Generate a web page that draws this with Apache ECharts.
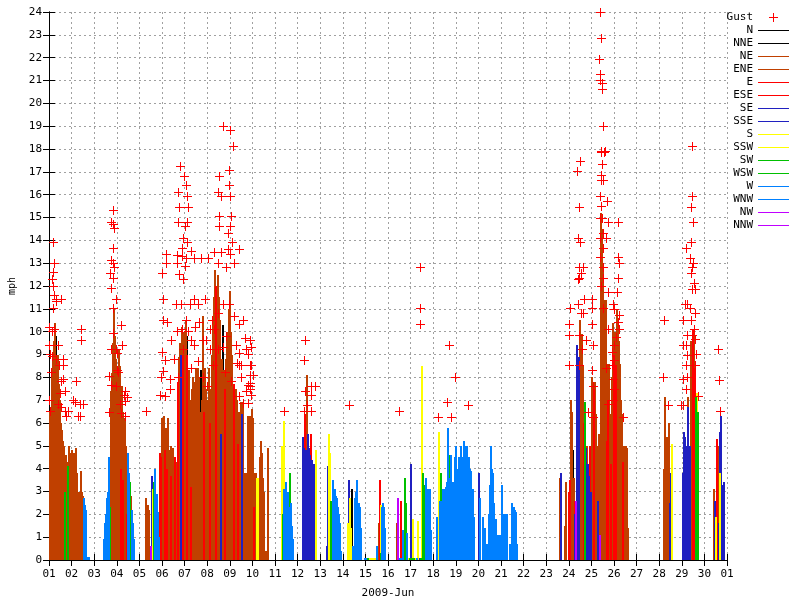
<!DOCTYPE html>
<html><head><meta charset="utf-8">
<script src="https://cdn.jsdelivr.net/npm/echarts@6/dist/echarts.min.js"></script>
<style>html,body{margin:0;padding:0;background:#fff}#c{width:800px;height:600px}</style>
</head><body><div id="c"></div>
<script>
// ---------- data ----------
const dayLabels = ['01','02','03','04','05','06','07','08','09','10','11','12','13','14','15','16','17','18','19','20','21','22','23','24','25','26','27','28','29','30','01'];
const directions = ['N','NNE','NE','ENE','E','ESE','SE','SSE','S','SSW','SW','WSW','W','WNW','NW','NNW'];
const dirColors = ['#000000','#000000','#c04000','#c04000','#ff0000','#ff0000','#2020c0','#2020c0','#ffff00','#ffff00','#00c000','#00c000','#0080ff','#0080ff','#c000ff','#c000ff'];

// hourly mean wind speed (mph), one row per day of June 2009
const windSpeed = [
[6.5,6.7,8.0,9.0,9.6,10.4,9.8,8.6,9.0,8.0,7.7,7.0,6.0,5.7,5.2,5.0,3.0,4.6,4.3,4.1,5.0,4.7,4.5,4.8],
[4.0,4.7,4.0,3.5,4.9,3.8,3.0,0,3.0,3.9,3.0,2.8,2.7,2.4,2.2,0.15,0.15,0.15,0,0,0,0,0,0],
[0,0,0,0,0,0,0,0,0,0.9,1.6,2.0,2.5,2.7,3.0,4.5,2.3,7.4,8.2,9.5,11.0,9.8,8.8,8.3],
[7.5,9.2,8.5,4.0,7.6,6.5,3.5,5.5,6.2,5.0,2.0,4.7,3.8,3.4,2.8,2.2,1.6,0.9,0,0,0,0,0,0],
[0,0,0,0,0,0,2.7,2.0,2.4,2.2,0,0.6,3.7,3.1,3.4,4.0,4.0,2.9,2.9,2.1,1.0,4.7,4.5,6.2],
[5.5,6.3,4.8,5.8,4.0,6.2,4.2,4.8,3.7,5.0,3.9,4.9,3.7,4.5,3.8,4.3,7.8,8.9,9.5,9.0,10.2,9.0,10.0,9.5],
[10.5,9.0,9.8,8.0,8.3,7.0,3.2,7.5,8.0,6.5,7.8,8.4,7.0,8.4,8.0,6.5,8.3,7.0,10.7,8.0,6.5,8.4,7.5,6.4],
[7.0,8.4,6.0,7.5,9.0,10.5,11.5,12.7,12.0,11.5,12.5,11.5,10.5,9.0,5.5,8.8,10.3,8.3,7.5,8.8,10.0,9.0,11.0,11.8],
[10.0,9.0,7.5,7.7,6.5,7.5,6.0,7.0,5.1,6.5,5.8,6.9,6.4,6.9,3.8,3.2,3.8,3.2,6.3,5.8,6.3,5.9,6.6,6.0],
[6.2,2.3,3.8,3.8,3.6,3.6,3.6,4.5,5.2,4.7,3.6,3.0,0,0.4,0,4.9,0,0,0,0,0,0,0,0],
[0,0,0,0,0,0,5.0,2.0,6.1,3.1,2.9,3.4,2.6,3.0,2.3,3.8,2.5,1.5,0.9,0,0,0,0,0],
[0,0,0,0,0,5.4,4.9,6.4,4.8,8.1,5.5,4.9,4.6,5.5,4.4,3.8,4.2,3.8,2.6,4.8,0,0,0,0],
[0,0,0,0,0,0,0.6,4.1,5.5,4.7,2.6,2.2,3.5,3.1,2.7,3.1,2.8,2.7,2.3,2.0,1.6,0.4,0,0],
[0,0,0,0,1.6,0,3.5,2.7,1.4,3.1,0.6,0,2.7,3.0,3.5,2.4,2.5,2.3,1.4,0,0,0,0.1,0.1],
[0.1,0.1,0.1,0.1,0.1,0.1,0.1,0.1,0.1,0.1,0,0.6,0,1.6,3.5,2.4,0.3,2.3,2.5,2.3,1.4,0,0,0],
[0,0,0,0,0,0,0,0,1.6,0,2.7,0,0.1,2.6,0.1,1.3,0.1,3.6,2.5,1.2,0.1,0.1,0.1,4.2],
[0.1,1.8,0.1,0.1,0.1,0.1,0.1,1.7,0.1,0.1,0.1,8.5,3.8,3.3,3.3,3.6,3.0,3.1,3.1,3.0,3.1,1.3,0,0],
[0,0,0,1.9,0,5.6,2.6,3.8,2.6,3.1,2.8,3.1,2.6,3.2,3.4,5.8,3.6,4.6,4.6,3.4,2.8,3.4,4.5,5.0],
[4.0,3.6,4.5,3.8,5.0,4.2,3.8,4.5,5.2,5.0,4.8,5.0,3.9,4.5,4.0,3.9,3.1,3.1,1.9,0,0,0,0,0],
[3.8,2.7,0,0,1.9,0,1.4,0,0.7,0,2.0,3.3,5.0,4.0,3.8,2.5,1.8,1.8,1.8,0,1.1,0,1.1,0],
[3.3,0,2.0,0,2.0,2.0,0,0,0.7,0.7,0,2.5,2.3,2.3,2.2,2.1,0.7,0,0,0,0,0,0,0],
[0,0,0,0,0,0,0,0,0,0,0,0,0,0,0,0,0,0,0,0,0,0,0,0],
[0,0,0,0,0,0,0,0,0,0,0,0,0,0,3.6,3.8,0,0,0,1.5,3.4,0,0,3.0],
[3.5,7.0,6.5,4.8,3.6,2.6,2.0,2.6,9.4,8.5,8.9,10.5,9.3,9.9,8.5,6.0,6.9,4.9,5.0,4.2,3.7,5.0,3.0,5.0],
[8.0,7.6,7.5,7.8,6.4,5.0,2.6,5.5,1.1,15.2,14.5,13.0,11.4,10.2,11.4,5.2,8.6,7.0,8.6,6.4,4.2,8.0,10.4,9.0],
[10.0,8.5,11.0,10.2,9.6,8.6,7.0,6.4,4.3,4.3,5.0,3.9,5.0,4.9,1.4,0,0,0,0,0,0,0,0,0],
[0,0,0,0,0,0,0,0,0,0,0,0,0,0,0,0,0,0,0,0,0,0,0,0],
[0,0,0,0,4.0,7.15,4.0,5.4,3.6,6.0,2.5,3.8,5.1,0,0,0,0,0,0,0,0,0,0,0],
[3.8,5.6,5.4,5.0,4.0,6.7,7.15,5.0,5.0,9.6,8.0,10.1,9.9,8.4,7.2,7.3,6.5,0,0,0,0,0,0,0],
[0,0,0,0,0,0,0,0,0,3.1,2.6,1.9,5.3,5.0,1.6,3.8,5.6,6.3,3.3,3.1,3.4,0,0,0]
];

// hourly wind direction (index into directions)
const windDir = [
[2,2,2,2,2,2,0,2,2,2,2,2,2,2,2,2,10,2,2,10,2,2,2,2],
[2,2,2,2,2,2,2,2,2,2,2,2,12,12,12,12,12,12,2,2,2,2,2,2],
[2,2,2,2,2,2,2,2,2,12,12,12,12,12,12,12,10,2,2,2,2,2,2,2],
[2,2,2,4,2,2,4,2,2,2,4,12,12,10,2,12,12,12,2,2,2,2,2,2],
[2,2,2,2,2,2,2,2,2,2,2,14,6,8,10,12,12,12,12,12,12,4,4,2],
[2,2,4,2,4,2,2,2,4,2,2,2,2,4,2,2,4,2,2,6,2,4,2,2],
[2,4,0,2,2,2,4,2,2,2,2,2,2,2,2,2,0,2,2,2,4,2,2,2],
[2,2,4,2,2,2,2,2,4,2,2,2,2,2,6,2,0,2,4,2,2,2,2,2],
[2,2,2,4,2,2,2,2,4,2,2,2,6,2,2,2,2,2,2,2,2,2,2,2],
[2,4,2,2,8,8,2,2,2,2,2,2,2,2,2,2,2,2,2,2,2,2,2,2],
[12,12,12,12,12,12,8,10,8,12,12,12,12,12,12,10,12,12,12,12,12,12,12,12],
[6,6,6,6,6,6,6,4,6,2,6,6,6,4,6,6,6,6,8,8,6,6,6,6],
[12,12,12,12,12,12,6,6,8,8,10,10,12,12,12,12,12,12,12,12,12,12,12,12],
[8,8,8,8,8,8,6,8,8,0,12,12,12,12,12,12,12,12,12,12,12,12,12,12],
[12,10,10,8,8,8,8,8,8,8,12,12,12,2,4,8,10,12,12,12,12,12,12,12],
[12,12,12,12,12,12,12,12,2,12,14,12,12,4,12,12,6,10,10,12,8,6,10,6],
[10,8,10,10,8,8,12,8,6,4,10,8,10,10,10,12,12,12,12,12,12,12,12,12],
[12,12,12,12,12,8,12,10,12,12,12,12,12,12,12,12,12,10,12,12,12,12,12,12],
[12,12,12,12,12,12,12,12,12,12,12,12,12,12,12,12,12,12,12,12,12,12,12,12],
[6,12,12,12,12,12,12,12,12,12,12,12,12,12,12,12,12,12,12,12,12,12,12,12],
[12,12,12,12,12,12,12,12,12,12,12,12,12,12,12,12,12,12,12,12,12,12,12,12],
[2,2,2,2,2,2,2,2,2,2,2,2,2,2,2,2,2,2,2,2,2,2,2,2],
[2,2,2,2,2,2,2,2,2,2,2,2,2,2,2,6,2,2,2,2,2,2,2,4],
[4,2,2,0,2,4,6,14,6,6,6,2,2,2,2,4,10,6,2,6,6,4,6,2],
[2,2,4,2,2,2,6,2,14,2,2,2,2,0,2,4,2,4,2,2,4,2,2,4],
[2,4,2,2,2,2,2,2,4,4,2,2,2,2,2,2,2,2,2,2,2,2,2,2],
[2,2,2,2,2,2,2,2,2,2,2,2,2,2,2,2,2,2,2,2,2,2,2,2],
[2,2,2,2,2,2,2,2,2,2,6,6,8,2,2,2,2,2,2,2,2,2,2,2],
[6,6,6,6,6,6,2,4,6,2,2,4,2,4,10,8,10,2,2,2,2,2,2,2],
[2,2,2,2,2,2,2,2,2,2,6,8,4,2,6,8,6,6,6,2,6,2,2,2]
];

// gusts: [days since 2009-06-01 00:00, mph]
const gusts = [
[0.221,13.9],[0.265,13.0],[0.221,12.6],[0.164,12.3],[0.190,12.0],[0.265,11.6],[0.341,11.4],[0.562,11.4],[0.190,11.0],[0.341,11.3],[0.044,10.2],[0.164,10.0],[0.265,10.1],[0.013,9.4],[0.412,9.4],[0.075,9.0],[0.164,8.9],[0.341,8.8],[0.633,8.8],[0.456,8.5],[0.633,8.5],[0.119,8.2],[0.633,7.9],[0.562,7.8],[1.226,7.8],[0.708,7.4],[0.487,7.3],[1.075,7.0],[1.181,6.9],[1.403,6.8],[1.518,6.8],[0.013,7.0],[0.075,6.5],[0.412,6.8],[0.562,6.7],[0.708,6.5],[0.854,6.5],[1.296,6.3],[1.372,6.3],[0.783,6.3],[1.447,10.1],[1.447,9.6],
[2.774,14.8],[2.845,14.7],[2.920,14.5],[2.876,15.3],[2.845,13.65],[2.774,13.1],[2.845,13.0],[2.730,12.55],[2.920,12.8],[2.876,12.35],[2.774,11.9],[2.965,11.4],[2.845,11.0],[3.217,10.25],[2.845,9.9],[2.774,9.2],[2.965,9.2],[3.022,9.05],[3.261,9.4],[2.699,8.05],[3.022,8.3],[3.066,8.2],[2.774,7.65],[2.965,7.6],[3.407,7.4],[3.332,7.2],[3.465,7.1],[3.407,6.95],[3.142,6.8],[2.699,6.45],[3.217,6.4],[3.363,6.3],
[4.336,6.5],
[5.827,17.25],[5.987,16.8],[6.093,16.4],[5.752,16.1],[6.137,15.9],[5.796,15.45],[6.164,15.45],[5.721,14.8],[6.119,14.8],[6.049,14.6],[5.942,14.1],[6.137,13.9],[5.916,13.65],[5.177,13.4],[6.314,13.5],[5.677,13.35],[5.898,13.3],[6.093,13.2],[6.460,13.2],[6.757,13.2],[7.049,13.2],[7.345,13.45],[7.642,13.45],[7.491,13.0],[5.177,13.0],[5.677,13.0],[6.018,12.85],[5.031,12.55],[5.765,12.5],[5.942,12.3],[7.832,12.8],[8.040,13.4],[8.186,13.0],[7.934,13.6],[8.420,13.6],[8.128,13.9],[7.934,14.3],[8.009,14.6],[7.535,14.6],[7.535,15.05],[8.097,15.05],[7.566,16.8],[7.978,17.05],[7.978,16.4],[7.491,16.1],[7.642,15.9],[8.009,15.9],[7.743,19.0],[8.009,18.8],[8.142,18.1],
[5.058,11.4],[6.460,11.4],[6.903,11.4],[5.650,11.2],[5.872,11.2],[6.239,11.2],[6.606,11.2],[5.058,10.5],[6.093,10.5],[6.681,10.4],[7.243,10.5],[7.491,10.8],[7.712,11.2],[7.965,11.2],[8.230,10.65],[8.451,10.3],[5.664,10.0],[5.916,10.1],[6.164,10.0],[7.124,10.1],[7.345,10.1],[6.314,9.6],[6.460,9.4],[6.827,9.6],[5.942,9.2],[7.124,9.2],[7.522,9.2],[7.712,9.3],[8.305,9.4],[8.420,9.05],[8.894,9.6],[8.969,9.3],[5.031,9.1],[5.133,8.75],[5.058,8.25],[5.354,7.9],[8.819,9.0],[8.894,8.5],[8.527,8.0],[8.894,7.75],[8.894,7.45],[5.354,7.45],[5.133,7.15],
[8.451,8.5],[8.527,8.5],[8.969,8.5],[8.894,8.1],[9.040,8.1],[8.894,7.6],[8.819,7.65],[8.748,7.4],[8.969,7.2],[8.597,6.85],[8.819,6.85],[8.451,7.15],
[5.575,8.8],[5.708,8.0],[6.327,8.4],[6.593,8.7],[6.858,8.0],[7.035,7.6],[7.257,8.5],[7.788,8.2],[8.097,7.8],[8.319,8.6],[8.673,9.7],[8.628,10.5],[8.717,9.2],[7.876,9.8],[6.991,9.6],[6.504,10.2],[5.442,9.6],[5.265,10.4],[4.956,8.0],[4.934,7.2],
[10.412,6.5],[11.350,9.6],[11.327,8.75],[11.358,7.4],[11.624,7.6],[11.814,7.6],[11.593,7.2],[11.447,6.75],[11.327,6.5],[11.624,6.5],[13.288,6.75],[15.509,6.5],[16.460,12.8],[16.460,11.0],[16.460,10.3],[17.712,9.4],[17.965,8.0],[17.624,6.9],[17.226,6.25],[17.801,6.25],[18.553,6.75],
[24.412,24.0],[24.456,22.85],[24.350,21.9],[24.412,21.25],[24.381,21.0],[24.500,20.85],[24.482,20.6],[24.527,19.0],[24.456,17.9],[24.602,17.9],[24.456,17.85],[24.571,17.85],[23.527,17.45],[24.513,17.3],[23.394,17.0],[24.456,16.85],[24.456,16.6],[24.527,16.6],[24.412,15.9],[24.704,15.7],[23.465,15.45],[24.456,15.5],[24.381,14.95],[24.500,14.95],[24.748,14.8],[25.190,14.8],[24.527,14.3],[24.381,14.1],[24.677,14.1],[23.420,14.1],[23.527,13.9],[24.527,13.65],[25.190,13.25],[25.235,13.0],[24.381,13.25],[23.465,12.8],[23.642,12.8],[23.571,12.55],[23.465,12.35],[25.190,12.35],[24.527,12.8],[24.527,12.35],
[23.420,12.3],[23.084,11.0],[23.420,11.2],[23.642,10.8],[23.686,11.4],[24.040,11.4],[24.040,11.0],[23.571,10.8],[23.053,10.3],[23.053,9.85],[23.465,9.85],[24.058,10.3],[23.615,9.2],[23.792,9.6],[24.084,9.4],[23.053,8.5],[23.465,8.5],[24.058,8.3],[24.084,7.6],[23.863,6.45],[24.084,6.25],[24.748,11.7],[25.164,11.7],[24.748,10.1],[24.969,11.2],[25.013,10.95],[25.235,10.7],[25.190,10.4],[25.265,10.1],[25.119,9.75],[25.044,9.4],[24.942,9.1],[25.013,8.75],[24.942,8.5],[24.677,8.4],[24.969,7.9],[25.013,7.45],[24.969,7.0],[24.748,6.8],[25.412,6.25],[24.527,11.0],[24.456,12.0],
[27.226,10.5],[27.212,8.0],[27.403,6.75],[28.482,18.1],[28.482,15.9],[28.438,15.45],[28.509,14.8],[28.438,13.9],[28.217,13.65],[28.394,13.2],[28.509,13.0],[28.482,12.8],[28.438,12.55],[28.540,12.1],[28.615,11.85],[28.482,11.85],[28.173,11.2],[28.261,11.2],[28.363,11.0],[28.615,10.8],[28.066,10.5],[28.438,10.5],[28.261,9.85],[28.482,9.85],[28.217,9.4],[28.097,9.4],[28.540,10.1],[28.615,9.65],[28.659,9.0],[28.274,8.95],[28.230,8.5],[28.615,8.5],[28.097,7.9],[28.261,8.0],[28.186,7.45],[27.996,6.75],[28.097,6.75],[28.730,7.15],[29.615,9.2],[29.659,7.85],[29.721,6.5]
];

// ---------- chart ----------
const FONT = 'DejaVu Sans Mono';
const chart = echarts.init(document.getElementById('c'), null, {renderer: 'canvas'});

const perDir = directions.map(() => []);
windSpeed.forEach((day, d) => day.forEach((v, h) => {
  if (v > 0) perDir[windDir[d][h]].push([d + h / 24, v]);
}));

// bar of one hourly record, snapped to whole pixels like the original raster plot
function renderBar(params, api) {
  const t = api.value(0), v = api.value(1);
  const a = api.coord([t, 0]);
  const b = api.coord([t + 1 / 24, v]);
  const x0 = Math.round(a[0]);
  const x1 = Math.max(x0 + 2, Math.round(b[0]));
  const y0 = Math.round(a[1]);
  const y1 = Math.min(y0 - 1, Math.round(b[1]));
  return {
    type: 'rect',
    shape: {x: x0, y: y1, width: x1 - x0, height: y0 - y1},
    style: {fill: api.visual('color')}
  };
}

// "+" marker for a gust, 9 px with 1 px strokes
function renderPlus(params, api) {
  const p = api.coord([api.value(0), api.value(1)]);
  const cx = Math.floor(p[0]), cy = Math.floor(p[1]);
  const fill = api.visual('color');
  return {
    type: 'group',
    children: [
      {type: 'rect', shape: {x: cx - 4, y: cy, width: 9, height: 1}, style: {fill}},
      {type: 'rect', shape: {x: cx, y: cy - 4, width: 1, height: 9}, style: {fill}}
    ]
  };
}

const legendPlus = 'path://M0,0M31,9M11,4H15V0H16V4H20V5H16V9H15V5H11Z';
const legendLine = 'path://M0,0M31,9M0,4H31V5H0Z';

const series = [];
directions.forEach((dname, i) => {
  series.push({
    name: dname, type: 'custom', data: perDir[i], renderItem: renderBar,
    encode: {x: 0, y: 1}, itemStyle: {color: dirColors[i]}, clip: true, silent: true, z: 2
  });
});
series.push({
  name: 'Gust', type: 'custom', data: gusts, renderItem: renderPlus,
  encode: {x: 0, y: 1}, itemStyle: {color: '#ff0000'}, clip: false, silent: true, z: 5
});

const axisCommon = {
  axisLine: {show: true, lineStyle: {color: '#000', width: 1}},
  axisTick: {show: true, inside: true, length: 6, lineStyle: {color: '#000', width: 1}}
};

chart.setOption({
  animation: false,
  backgroundColor: '#ffffff',
  grid: {left: 49, top: 12, width: 678, height: 548, outerBoundsMode: 'none', containLabel: false},
  legend: {
    orient: 'vertical', right: 11, top: 12, padding: 0, itemGap: 2,
    itemWidth: 31, itemHeight: 9, align: 'right', selectedMode: false,
    textStyle: {fontFamily: FONT, fontSize: 11, color: '#000'},
    data: [{name: 'Gust', icon: legendPlus, itemStyle: {color: '#ff0000'}}].concat(
      directions.map((n, i) => ({name: n, icon: legendLine, itemStyle: {color: dirColors[i]}})))
  },
  xAxis: [
    Object.assign({
      type: 'value', min: 0, max: 30, interval: 1, position: 'bottom',
      name: '2009-Jun', nameLocation: 'middle', nameGap: 28,
      nameTextStyle: {fontFamily: FONT, fontSize: 11, color: '#000'},
      axisLabel: {margin: 9, fontFamily: FONT, fontSize: 11, color: '#000', showMinLabel: true, showMaxLabel: true,
        formatter: v => dayLabels[Math.round(v)]},
      splitLine: {show: true, lineStyle: {color: '#a0a0a0', type: [2, 3], width: 1}}
    }, axisCommon),
    Object.assign({
      type: 'value', min: 0, max: 30, interval: 1, position: 'top',
      axisLabel: {show: false}, splitLine: {show: false}
    }, axisCommon)
  ],
  yAxis: [
    Object.assign({
      type: 'value', min: 0, max: 24, interval: 1, position: 'left',
      name: 'mph', nameLocation: 'middle', nameGap: 26, nameRotate: 90,
      nameTextStyle: {fontFamily: FONT, fontSize: 10, color: '#000'},
      axisLabel: {margin: 7, fontFamily: FONT, fontSize: 11, color: '#000', showMinLabel: true, showMaxLabel: true},
      splitLine: {show: true, lineStyle: {color: '#a0a0a0', type: [2, 3], width: 1}}
    }, axisCommon),
    Object.assign({
      type: 'value', min: 0, max: 24, interval: 1, position: 'right',
      axisLabel: {show: false}, splitLine: {show: false}
    }, axisCommon)
  ],
  series: series
});
</script>
</body></html>
